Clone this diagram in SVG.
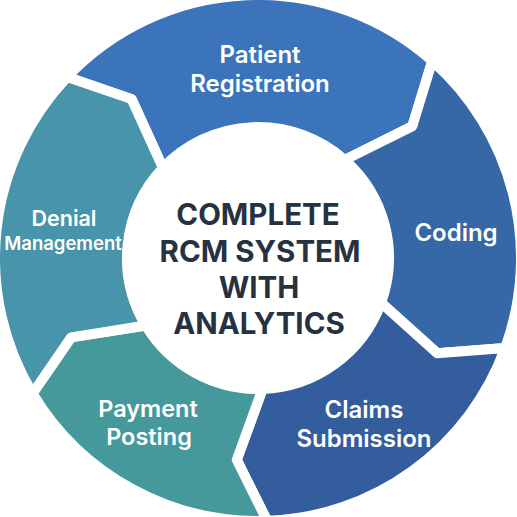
<svg xmlns="http://www.w3.org/2000/svg" width="517" height="517" viewBox="0 0 517 517">
<style>
.seg{stroke:#ffffff;stroke-width:10;stroke-linejoin:round}
.lbl{font-family:Inter,"Open Sans","Liberation Sans",sans-serif;font-weight:600;fill:#ffffff;text-anchor:middle}
.ctr{font-family:Inter,"Open Sans","Liberation Sans",sans-serif;font-weight:700;fill:#263241;text-anchor:middle;font-size:29.5px}
</style>
<rect width="517" height="517" fill="#ffffff"/>
<g id="patient-registration">
<path class="seg" fill="#3b74ba" d="M67.23,76.96 A263,263 0 0 1 432.27,61.02 L412.36,126.16 L344.80,159.89 A131,131 0 0 0 162.98,167.83 L131.63,99.13 Z"/>
<text class="lbl" font-size="24" x="260" y="63">Patient</text>
<text class="lbl" font-size="24" x="260" y="92">Registration</text>
</g>
<g id="coding">
<path class="seg" fill="#3667a6" d="M432.27,61.02 A263,263 0 0 1 505.14,347.95 L437.24,353.30 L381.10,302.80 A131,131 0 0 0 344.80,159.89 L412.36,126.16 Z"/>
<text class="lbl" font-size="24" x="456" y="241">Coding</text>
</g>
<g id="claims-submission">
<path class="seg" fill="#345d9d" d="M505.14,347.95 A263,263 0 0 1 267.18,520.84 L236.78,459.89 L262.57,388.92 A131,131 0 0 0 381.10,302.80 L437.24,353.30 Z"/>
<text class="lbl" font-size="24" x="364" y="418">Claims</text>
<text class="lbl" font-size="24" x="364" y="447">Submission</text>
</g>
<g id="payment-posting">
<path class="seg" fill="#45999a" d="M267.18,520.84 A263,263 0 0 1 32.56,393.46 L71.14,337.32 L145.71,325.47 A131,131 0 0 0 262.57,388.92 L236.78,459.89 Z"/>
<text class="lbl" font-size="23.5" x="148" y="417">Payment</text>
<text class="lbl" font-size="23.5" x="149" y="445">Posting</text>
</g>
<g id="denial-management">
<path class="seg" fill="#4894aa" d="M32.56,393.46 A263,263 0 0 1 67.23,76.96 L131.63,99.13 L162.98,167.83 A131,131 0 0 0 145.71,325.47 L71.14,337.32 Z"/>
<text class="lbl" font-size="21.5" x="64" y="226">Denial</text>
<text class="lbl" font-size="18.5" x="63" y="250">Management</text>
</g>
<g id="center">
<text class="ctr" x="258" y="225">COMPLETE</text>
<text class="ctr" x="260" y="262">RCM SYSTEM</text>
<text class="ctr" x="259" y="298">WITH</text>
<text class="ctr" x="259" y="334">ANALYTICS</text>
</g>
<g id="connectors"></g>
</svg>
